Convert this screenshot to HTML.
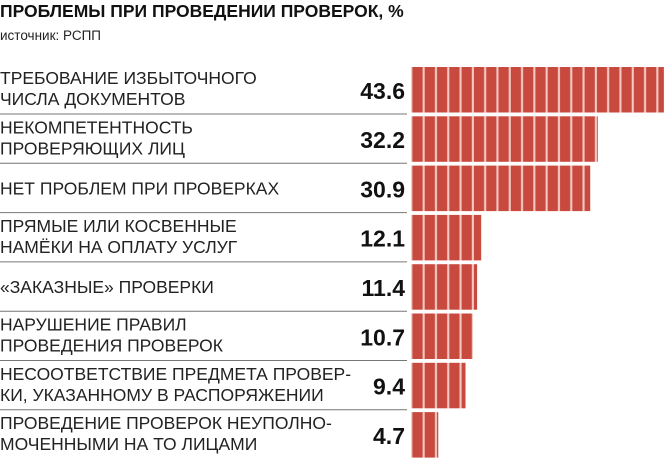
<!DOCTYPE html>
<html><head><meta charset="utf-8"><style>
html,body{margin:0;padding:0;background:#fff;}
svg{display:block;font-family:"Liberation Sans","DejaVu Sans",sans-serif;}
</style></head><body>
<svg id="chart" width="669" height="459" viewBox="0 0 669 459" xmlns="http://www.w3.org/2000/svg">
<defs>
<pattern id="seg" patternUnits="userSpaceOnUse" x="411" y="0" width="12.3" height="459">
<rect x="0" y="0" width="12.3" height="459" fill="#f3c9c4"/>
<rect x="1.4" y="0" width="10.2" height="459" fill="#c84a3f"/>
</pattern>
</defs>
<text x="0" y="17" font-size="17.5" font-weight="bold" fill="#111">ПРОБЛЕМЫ ПРИ ПРОВЕДЕНИИ ПРОВЕРОК, %</text>
<text x="0" y="40" font-size="13.5" fill="#222">источник: РСПП</text>
<g id="rows"></g>
</svg>
<script>
const labelsLine1 = ["ТРЕБОВАНИЕ ИЗБЫТОЧНОГО","НЕКОМПЕТЕНТНОСТЬ","НЕТ ПРОБЛЕМ ПРИ ПРОВЕРКАХ","ПРЯМЫЕ ИЛИ КОСВЕННЫЕ","«ЗАКАЗНЫЕ» ПРОВЕРКИ","НАРУШЕНИЕ ПРАВИЛ","НЕСООТВЕТСТВИЕ ПРЕДМЕТА ПРОВЕР-","ПРОВЕДЕНИЕ ПРОВЕРОК НЕУПОЛНО-"];
const labelsLine2 = ["ЧИСЛА ДОКУМЕНТОВ","ПРОВЕРЯЮЩИХ ЛИЦ","","НАМЁКИ НА ОПЛАТУ УСЛУГ","","ПРОВЕДЕНИЯ ПРОВЕРОК","КИ, УКАЗАННОМУ В РАСПОРЯЖЕНИИ","МОЧЕННЫМИ НА ТО ЛИЦАМИ"];
const values = [43.6,32.2,30.9,12.1,11.4,10.7,9.4,4.7];
const valueLabels = ["43.6","32.2","30.9","12.1","11.4","10.7","9.4","4.7"];

const NS="http://www.w3.org/2000/svg";
const g=document.getElementById('rows');
const x0=411, pxPerUnit=5.8, top0=67, pitch=49.3, barH=45.5;
function xScale(v){return x0+v*pxPerUnit;}
function rowY(i){return top0+i*pitch;}
function mk(tag,attrs){const e=document.createElementNS(NS,tag);for(const k in attrs)e.setAttribute(k,attrs[k]);return e;}
values.forEach((v,i)=>{
  const y=rowY(i);
  const bar=mk('rect',{x:x0,y:y,width:xScale(v)-x0,height:barH,fill:'url(#seg)'});
  
  
  g.appendChild(bar);
  const val=mk('text',{x:405,y:y+barH/2+9,'font-size':'23','font-weight':'bold','text-anchor':'end',fill:'#111'});
  val.textContent=valueLabels[i];
  
  
  g.appendChild(val);
  const two=labelsLine2[i]!=="";
  const t1=mk('text',{x:0,y:two?y+17:y+barH/2+6,'font-size':'17.5',fill:'#222'});
  t1.textContent=labelsLine1[i];
  
  
  g.appendChild(t1);
  if(two){
    const t2=mk('text',{x:0,y:y+38,'font-size':'17.5',fill:'#222'});
    t2.textContent=labelsLine2[i];
    
    
    g.appendChild(t2);
  }
  if(i<values.length-1){
    const ln=mk('line',{x1:0,x2:407,y1:y+barH+1.5,y2:y+barH+1.5,stroke:'#777','stroke-width':'1'});
    
    
    g.appendChild(ln);
  }
});
</script>
</body></html>
